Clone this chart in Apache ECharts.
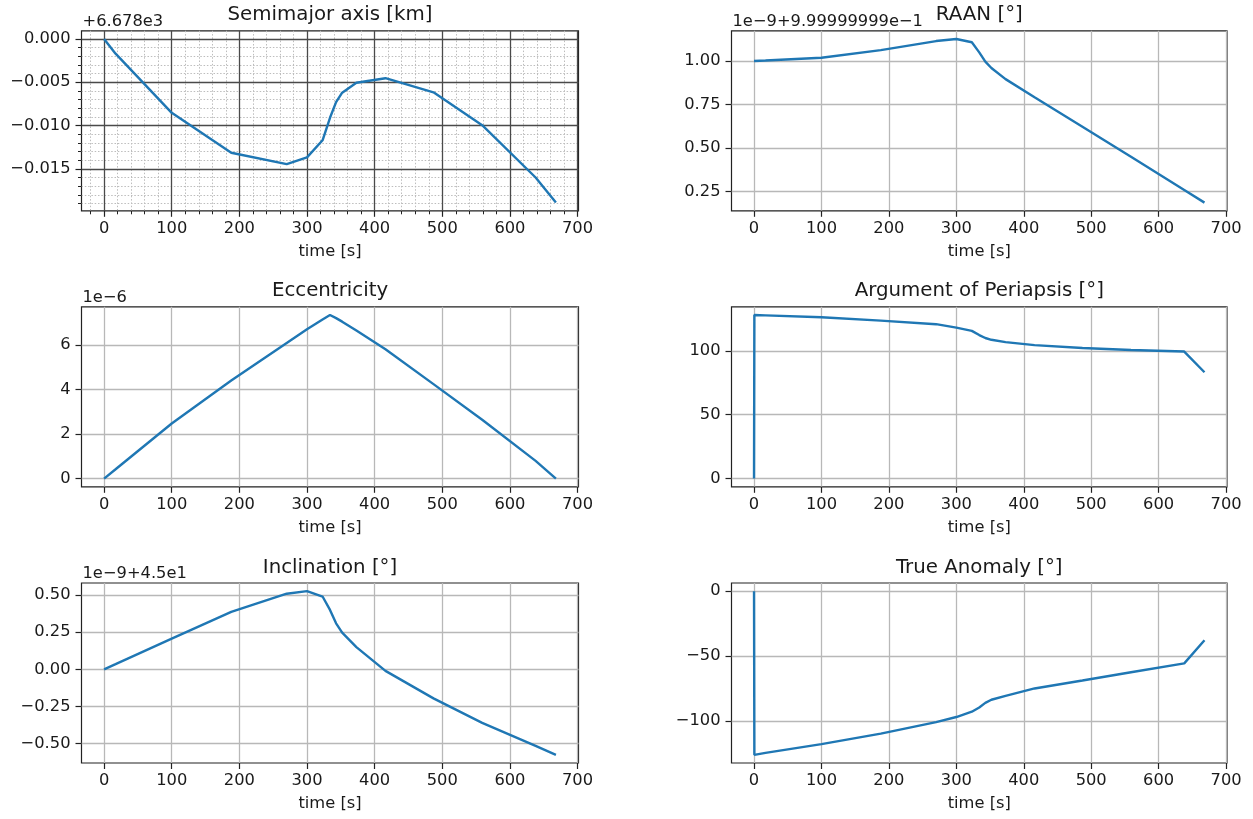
<!DOCTYPE html>
<html><head><meta charset="utf-8">
<script src="https://cdn.jsdelivr.net/npm/echarts@6/dist/echarts.min.js"></script>
<style>html,body{margin:0;padding:0;background:#fff}#c{width:1253px;height:819px}</style>
</head><body><div id="c"></div>
<script>
// ---- data ----
const time = [0, 0.5, 17, 100, 188, 270, 300, 323, 334, 343, 352, 373, 416, 487, 559, 638, 668];
// semimajor axis, shown relative to offset +6.678e3 km
const semimajorAxis = [0, -0.00005, -0.0017, -0.00853, -0.01314, -0.01446, -0.01368, -0.0117, -0.0091, -0.0073, -0.0062, -0.00505, -0.00453, -0.00616, -0.00996, -0.0160, -0.0189];
// RAAN, shown in units of 1e-9 relative to offset 9.99999999e-1
const raan = [1.000, 1.000, 1.003, 1.019, 1.063, 1.115, 1.127, 1.108, 1.05, 0.997, 0.960, 0.896, 0.792, 0.622, 0.449, 0.258, 0.185];
// eccentricity, shown in units of 1e-6
const eccentricity = [0, 0.012, 0.42, 2.48, 4.41, 6.10, 6.72, 7.16, 7.36, 7.22, 7.06, 6.66, 5.82, 4.25, 2.65, 0.80, 0];
const argPeriapsis = [0, 128, 127.7, 126.2, 123.6, 120.8, 118.1, 115.6, 112.3, 110.0, 108.6, 106.8, 104.4, 102.2, 100.6, 99.4, 83.2];
// inclination, shown in units of 1e-9 relative to offset 4.5e1
const inclination = [0, 0.001, 0.035, 0.207, 0.387, 0.509, 0.526, 0.490, 0.400, 0.310, 0.247, 0.150, -0.010, -0.195, -0.360, -0.515, -0.575];
const trueAnomaly = [0, -126, -124.5, -117.8, -109.7, -100.8, -96.9, -92.8, -89.5, -86.0, -83.6, -80.6, -74.9, -68.8, -62.4, -55.6, -37.8];

// ---- tick values ----
const xTicks = [0, 100, 200, 300, 400, 500, 600, 700];
const xMinorTicks = [-20, 20, 40, 60, 80, 120, 140, 160, 180, 220, 240, 260, 280, 320, 340, 360, 380, 420, 440, 460, 480, 520, 540, 560, 580, 620, 640, 660, 680];
const smaTicks = [-0.015, -0.010, -0.005, 0];
const smaMinorTicks = [-0.019, -0.018, -0.017, -0.016, -0.014, -0.013, -0.012, -0.011, -0.009, -0.008, -0.007, -0.006, -0.004, -0.003, -0.002, -0.001];
const raanTicks = [0.25, 0.50, 0.75, 1.00];
const eccTicks = [0, 2, 4, 6];
const aopTicks = [0, 50, 100];
const incTicks = [-0.50, -0.25, 0, 0.25, 0.50];
const taTicks = [-100, -50, 0];

const titles = ['Semimajor axis [km]', 'RAAN [°]', 'Eccentricity', 'Argument of Periapsis [°]', 'Inclination [°]', 'True Anomaly [°]'];
const offsets = ['+6.678e3', '1e\u22129+9.99999999e\u22121', '1e\u22126', '', '1e\u22129+4.5e1', ''];

const panels = [
  {values: semimajorAxis, ticks: smaTicks, dec: 3, minor: true},
  {values: raan, ticks: raanTicks, dec: 2},
  {values: eccentricity, ticks: eccTicks, dec: 0},
  {values: argPeriapsis, ticks: aopTicks, dec: 0},
  {values: inclination, ticks: incTicks, dec: 2},
  {values: trueAnomaly, ticks: taTicks, dec: 0}
];

// ---- layout ----
const FONT = 'DejaVu Sans';
const TICK_FS = 16.3, TITLE_FS = 19.8;
const TXT = '#1a1a1a';
const colLeft = [81.5, 731.5], colWidth = [497, 495.5];
const rowTop = [30.8, 306.8, 583], H = 180;

function pad(arr) {
  const mn = Math.min.apply(null, arr), mx = Math.max.apply(null, arr);
  const m = (mx - mn) * 0.05;
  return [mn - m, mx + m];
}
function fmt(v, d) {
  let s = Math.abs(v) < 1e-12 ? (0).toFixed(d) : v.toFixed(d);
  return s.replace('-', '\u2212');
}

const xr = pad(time);
const grid = [], xAxis = [], yAxis = [], series = [], graphic = [];

panels.forEach((p, i) => {
  const col = i % 2, row = Math.floor(i / 2);
  const left = colLeft[col], top = rowTop[row], width = colWidth[col];
  grid.push({left: left, top: top, width: width, height: H, show: true, borderColor: '#222', borderWidth: 1.2,
             backgroundColor: 'transparent', containLabel: false, outerBoundsMode: 'none'});
  const yr = pad(p.values);
  const majorColor = p.minor ? '#4a4a4a' : '#b8b8b8';
  const xi = xAxis.length, yi = yAxis.length;
  xAxis.push({
    gridIndex: i, type: 'value', position: 'bottom', min: xr[0], max: xr[1], z: 2,
    axisLine: {show: false, onZero: false},
    axisTick: {show: true, customValues: xTicks, length: 6, lineStyle: {color: '#222', width: 1.2}},
    axisLabel: {customValues: xTicks, margin: 10, fontSize: TICK_FS, fontFamily: FONT, color: TXT,
                formatter: v => fmt(v, 0)},
    splitLine: {show: true, lineStyle: {color: majorColor, width: 1.3}},
    name: 'time [s]', nameLocation: 'middle', nameGap: 33,
    nameTextStyle: {fontSize: TICK_FS, fontFamily: FONT, color: TXT}
  });
  yAxis.push({
    gridIndex: i, type: 'value', position: 'left', min: yr[0], max: yr[1], z: 2,
    axisLine: {show: false, onZero: false},
    axisTick: {show: true, customValues: p.ticks, length: 6, lineStyle: {color: '#222', width: 1.2}},
    axisLabel: {customValues: p.ticks, margin: 11, fontSize: TICK_FS, fontFamily: FONT, color: TXT,
                formatter: v => fmt(v, p.dec)},
    splitLine: {show: true, lineStyle: {color: majorColor, width: 1.3}}
  });
  if (p.minor) {
    xAxis.push({
      gridIndex: i, type: 'value', position: 'bottom', min: xr[0], max: xr[1], z: 1,
      axisLine: {show: false, onZero: false}, axisLabel: {show: false},
      axisTick: {show: true, customValues: xMinorTicks, length: 3.5, lineStyle: {color: '#222', width: 1}},
      splitLine: {show: true, lineStyle: {color: '#bdbdbd', width: 1, type: [1.5, 1.8]}}
    });
    yAxis.push({
      gridIndex: i, type: 'value', position: 'left', min: yr[0], max: yr[1], z: 1,
      axisLine: {show: false, onZero: false}, axisLabel: {show: false},
      axisTick: {show: true, customValues: smaMinorTicks, length: 3.5, lineStyle: {color: '#222', width: 1}},
      splitLine: {show: true, lineStyle: {color: '#bdbdbd', width: 1, type: [1.5, 1.8]}}
    });
  }
  series.push({
    type: 'line', xAxisIndex: xi, yAxisIndex: yi, showSymbol: false, symbol: 'none', z: 5,
    lineStyle: {color: '#1f77b4', width: 2.4}, itemStyle: {color: '#1f77b4'},
    data: time.map((t, k) => [t, p.values[k]])
  });
  graphic.push({type: 'text', x: left + width / 2, y: top - 15.5, z: 10,
    style: {text: titles[i], font: TITLE_FS + 'px "' + FONT + '"', fill: TXT, align: 'center', verticalAlign: 'middle'}});
  if (offsets[i]) {
    graphic.push({type: 'text', x: left + 1, y: top - 9.5, z: 10,
      style: {text: offsets[i], font: TICK_FS + 'px "' + FONT + '"', fill: TXT, align: 'left', verticalAlign: 'middle'}});
  }
});

const chart = echarts.init(document.getElementById('c'), null, {renderer: 'canvas'});
chart.setOption({animation: false, backgroundColor: '#fff', grid, xAxis, yAxis, series, graphic});
</script>
</body></html>
